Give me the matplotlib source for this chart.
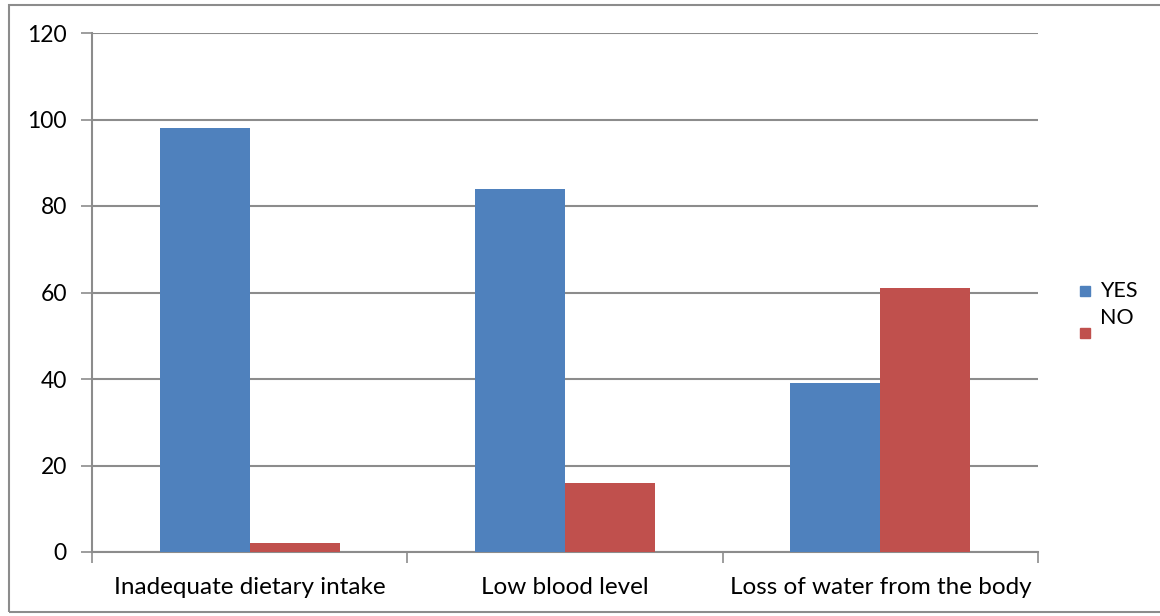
import numpy as np
import matplotlib.pyplot as plt
from matplotlib.patches import Rectangle

categories = ['Inadequate dietary intake', 'Low blood level', 'Loss of water from the body']
yes_vals = [98, 84, 39]
no_vals = [2, 16, 61]
yticks = [0, 20, 40, 60, 80, 100, 120]

blue = '#4f81bd'
red = '#c0504d'
grey = '#8c8c8c'

plt.rcParams['font.family'] = ['Lato', 'DejaVu Sans']

fig = plt.figure(figsize=(11.6, 6.16), dpi=100)
ax = fig.add_axes([92 / 1160, 1 - 552 / 616, 946 / 1160, 519 / 616])

x = np.arange(len(categories))
w = 0.285
ax.bar(x - w / 2, yes_vals, width=w, color=blue, zorder=3)
ax.bar(x + w / 2, no_vals, width=w, color=red, zorder=3)

ax.set_xlim(-0.5, len(categories) - 0.5)
ax.set_ylim(0, 120)
ax.set_yticks(yticks)
ax.tick_params(axis='y', length=8, width=1.2, color=grey, labelsize=16.5, pad=10)
ax.grid(axis='y', color=grey, linewidth=1.5, zorder=0)

# category labels centered, tick marks on the group boundaries
ax.set_xticks(x)
ax.set_xticklabels(categories, fontsize=17.5)
ax.tick_params(axis='x', length=0, pad=18)
ax.set_xticks(np.arange(len(categories) + 1) - 0.5, minor=True)
ax.tick_params(axis='x', which='minor', length=8, width=1.2, color=grey)

for side in ['top', 'right']:
    ax.spines[side].set_visible(False)
for side in ['left', 'bottom']:
    ax.spines[side].set_color(grey)
    ax.spines[side].set_linewidth(1.5)

# legend squares and labels
fig.patches.append(Rectangle((1080 / 1160, 1 - 296 / 616), 10 / 1160, 10 / 616,
                             transform=fig.transFigure, color=blue))
fig.patches.append(Rectangle((1080 / 1160, 1 - 338 / 616), 10 / 1160, 10 / 616,
                             transform=fig.transFigure, color=red))
fig.text(1100 / 1160, 1 - 291 / 616, 'YES', fontsize=15.5, va='center')
fig.text(1100 / 1160, 1 - 318 / 616, 'NO', fontsize=15.5, va='center')

# outer frame
fig.patches.append(Rectangle((9 / 1160, 1 - 612 / 616), 1.2, 607 / 616,
                             transform=fig.transFigure, fill=False,
                             edgecolor=grey, linewidth=1.5))

fig.savefig('out.png', dpi=100)
